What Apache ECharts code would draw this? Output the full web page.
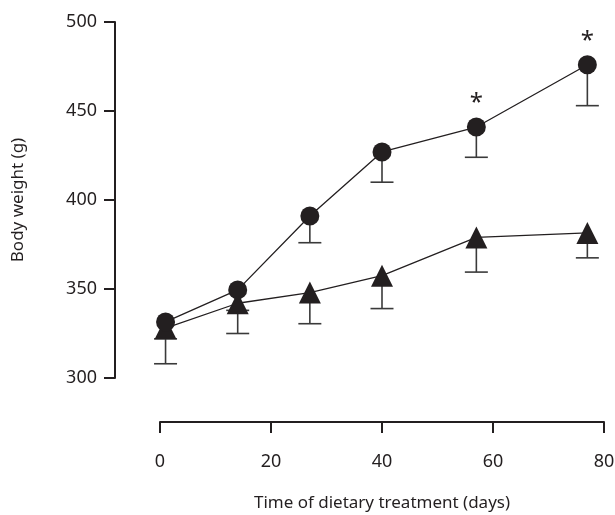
<!DOCTYPE html>
<html><head><meta charset="utf-8">
<script src="https://cdn.jsdelivr.net/npm/echarts@6/dist/echarts.min.js"></script>
<style>html,body{margin:0;padding:0;background:#fff}#c{width:615px;height:515px}</style>
</head><body><div id="c"></div>
<script>
const days = [1, 14, 27, 40, 57, 77];
const circleMean = [331.5, 349.5, 391, 427, 441, 476];
const circleLow  = [322, 338, 376, 410, 424, 453];
const triMean = [328, 342, 348, 357.5, 379, 381.5];
const triLow  = [308, 325, 330.5, 339, 359.5, 367.5];
const circleStars = ['', '', '', '', '*', '*'];
const yTicks = [300, 350, 400, 450, 500];
const xTicks = [0, 20, 40, 60, 80];

const ink = '#231f20';
const font = 'Noto Sans';

function pairs(xs, ys) { return xs.map((x, i) => [x, ys[i]]); }
function errData(xs, mean, low) { return xs.map((x, i) => [x, low[i], mean[i]]); }

function renderErr(params, api) {
  const x = api.value(0);
  const lo = api.coord([x, api.value(1)]);
  const hi = api.coord([x, api.value(2)]);
  const hw = 11.5;
  const st = { stroke: '#3a3a3a', lineWidth: 1.6 };
  return { type: 'group', children: [
    { type: 'line', shape: { x1: hi[0], y1: hi[1], x2: lo[0], y2: lo[1] }, style: st },
    { type: 'line', shape: { x1: lo[0] - hw, y1: lo[1], x2: lo[0] + hw, y2: lo[1] }, style: st }
  ]};
}

const chart = echarts.init(document.getElementById('c'));
chart.setOption({
  animation: false,
  backgroundColor: '#fff',
  textStyle: { fontFamily: font },
  grid: { left: 160, right: 11, top: 22, bottom: 137, containLabel: false, outerBoundsMode: 'none' },
  xAxis: {
    type: 'value', min: xTicks[0], max: xTicks[xTicks.length - 1], interval: 20,
    offset: 44,
    name: 'Time of dietary treatment (days)', nameLocation: 'middle', nameGap: 73,
    nameTextStyle: { fontSize: 17, color: ink, fontFamily: font },
    axisLine: { show: true, onZero: false, lineStyle: { color: ink, width: 2 } },
    axisTick: { show: true, inside: false, length: 11, lineStyle: { color: ink, width: 2 } },
    axisLabel: { margin: 31, fontSize: 18, color: ink, fontFamily: font },
    splitLine: { show: false }
  },
  yAxis: {
    type: 'value', min: yTicks[0], max: yTicks[yTicks.length - 1], interval: 50,
    offset: 45,
    name: 'Body weight (g)', nameLocation: 'middle', nameGap: 88, nameRotate: 90,
    nameTextStyle: { fontSize: 17, color: ink, fontFamily: font },
    axisLine: { show: true, onZero: false, lineStyle: { color: ink, width: 2 } },
    axisTick: { show: true, inside: false, length: 11, lineStyle: { color: ink, width: 2 } },
    axisLabel: { margin: 18, fontSize: 18, color: ink, fontFamily: font },
    splitLine: { show: false }
  },
  series: [
    { type: 'custom', renderItem: renderErr, data: errData(days, triMean, triLow), z: 1, silent: true },
    { type: 'custom', renderItem: renderErr, data: errData(days, circleMean, circleLow), z: 1, silent: true },
    {
      type: 'line', data: pairs(days, triMean), symbol: 'triangle', symbolSize: 22,
      lineStyle: { color: ink, width: 1.3 }, itemStyle: { color: ink }, z: 3
    },
    {
      type: 'line', data: pairs(days, circleMean), symbol: 'circle', symbolSize: 19,
      lineStyle: { color: ink, width: 1.3 }, itemStyle: { color: ink }, z: 4,
      label: {
        show: true, position: 'top', distance: 2, fontSize: 24, color: ink, fontFamily: font,
        formatter: p => circleStars[p.dataIndex]
      }
    }
  ]
});
</script>
</body></html>
